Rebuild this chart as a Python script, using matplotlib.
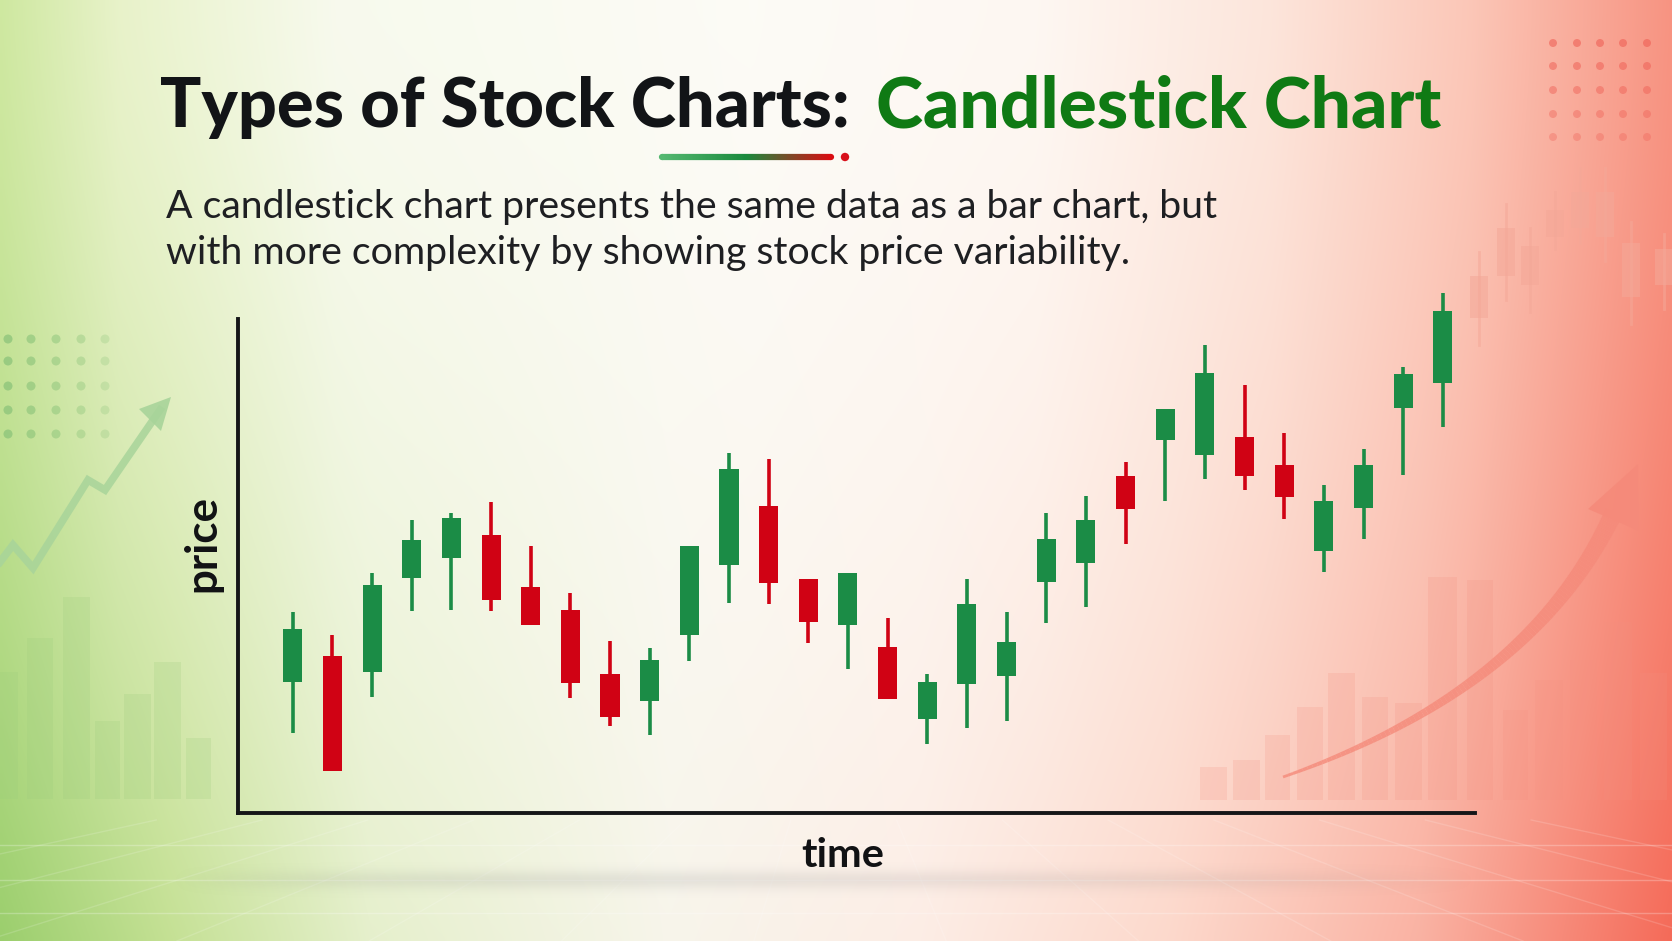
import numpy as np
import matplotlib
matplotlib.use("Agg")
import matplotlib.pyplot as plt
from matplotlib.collections import LineCollection
from matplotlib.patches import Polygon, Circle

# ---------------- data (candles) ----------------
opens  = [26.3, 31.5, 28.3, 47.1, 51.1, 55.7, 45.2, 40.7, 27.9, 22.5,
          35.6, 49.7, 61.5, 46.9, 37.7, 33.2, 18.9, 25.9, 27.5, 46.2,
          50.0, 67.4, 74.7, 71.7, 75.3, 69.6, 52.4, 61.0, 81.0, 86.1]
highs  = [40.3, 35.6, 48.1, 58.6, 60.0, 62.3, 53.5, 44.1, 34.5, 33.1,
          53.5, 72.1, 70.9, 46.9, 48.1, 39.1, 27.9, 46.9, 40.3, 60.1,
          63.5, 70.2, 80.9, 93.6, 85.6, 76.1, 65.6, 72.9, 89.2, 104.1]
lows   = [16.0, 8.5, 23.3, 40.5, 40.6, 40.5, 37.6, 23.1, 17.5, 15.7,
          30.5, 42.0, 41.8, 34.1, 28.8, 22.8, 13.8, 17.1, 18.4, 38.1,
          41.3, 53.9, 62.4, 66.9, 64.7, 58.9, 48.2, 54.8, 67.7, 77.2]
closes = [36.8, 8.5, 45.6, 54.6, 59.1, 42.7, 37.6, 26.0, 19.3, 30.7,
          53.5, 68.9, 46.0, 38.2, 48.1, 22.8, 26.3, 41.9, 34.2, 54.8,
          58.7, 60.9, 80.9, 88.1, 67.5, 63.2, 62.5, 69.6, 87.9, 100.5]

title_left = "Types of Stock Charts:"
title_right = "Candlestick Chart"
subtitle_lines = ["A candlestick chart presents the same data as a bar chart, but",
                  "with more complexity by showing stock price variability."]
xlabel = "time"
ylabel = "price"

# ---------------- decoration data (background) ----------------
left_bar_x = [0, 27, 63, 95, 124, 154, 186]
left_bar_w = [18, 26, 27, 25, 27, 27, 25]
left_bar_top = [672, 638, 597, 721, 694, 662, 738]
right_bar_x = [1200, 1233, 1265, 1297, 1328, 1362, 1395, 1428, 1467, 1503, 1535, 1570, 1604, 1640]
right_bar_w = [27, 27, 25, 26, 27, 26, 27, 29, 26, 25, 28, 27, 28, 27]
right_bar_top = [767, 760, 735, 707, 673, 697, 703, 577, 580, 710, 680, 660, 622, 673]
bg_c_x = [1479, 1506, 1530, 1555, 1580, 1605, 1631, 1664]
bg_c_body = [(276, 318), (228, 276), (246, 285), (210, 237), (192, 228), (192, 237), (243, 297), (249, 285)]
bg_c_wick = [(252, 345), (204, 300), (228, 312), (192, 249), (168, 243), (168, 261), (222, 324), (234, 309)]
left_zig_x = [0, 13, 33, 88, 105, 160]
left_zig_y = [562, 545, 568, 480, 490, 410]

GREEN = "#1b8c46"
RED = "#d00214"

W, H = 1672, 941
fig = plt.figure(figsize=(W / 100, H / 100), dpi=100)

# ---------------- background ----------------
bg = fig.add_axes([0, 0, 1, 1], zorder=0)
bg.set_xlim(0, W)
bg.set_ylim(H, 0)
bg.axis("off")

nx, ny = 400, 200
xs = np.linspace(0, 1, nx)
top_stops = [(0.0, (0.81, 0.91, 0.63)), (0.07, (0.91, 0.95, 0.79)), (0.2, (0.97, 0.98, 0.93)),
             (0.45, (0.99, 0.985, 0.965)), (0.62, (0.995, 0.97, 0.95)), (0.76, (0.99, 0.90, 0.86)),
             (0.88, (0.985, 0.78, 0.72)), (1.0, (0.97, 0.58, 0.51))]
bot_stops = [(0.0, (0.61, 0.81, 0.43)), (0.1, (0.77, 0.88, 0.58)), (0.22, (0.90, 0.94, 0.80)),
             (0.4, (0.97, 0.96, 0.92)), (0.55, (0.99, 0.93, 0.90)), (0.7, (0.99, 0.85, 0.80)),
             (0.85, (0.98, 0.70, 0.64)), (1.0, (0.96, 0.42, 0.35))]

def profile(stops):
    pos = [s[0] for s in stops]
    return np.stack([np.interp(xs, pos, [s[1][c] for s in stops]) for c in range(3)], axis=-1)

topc = profile(top_stops)
botc = profile(bot_stops)
t = np.linspace(0, 1, ny)[:, None, None] ** 1.5
img = topc[None] * (1 - t) + botc[None] * t
bg.imshow(img, extent=[0, W, H, 0], aspect="auto", interpolation="bilinear", zorder=0)

# faint floor grid
for yy in [845, 880, 913]:
    bg.plot([0, W], [yy, yy], color="white", lw=1, alpha=0.25, zorder=1)
for xx in np.linspace(-400, 2100, 14):
    bg.plot([W / 2 + (xx - W / 2) * 0.55, xx], [820, H], color="white", lw=1, alpha=0.15, zorder=1)

# left faint bars
for x0, w, top in zip(left_bar_x, left_bar_w, left_bar_top):
    bg.add_patch(plt.Rectangle((x0, top), w, 799 - top, color="#9ccc7c", alpha=0.22, lw=0, zorder=1))
# right faint bars
for x0, w, top in zip(right_bar_x, right_bar_w, right_bar_top):
    bg.add_patch(plt.Rectangle((x0, top), w, 800 - top, color="#f39080", alpha=0.2, lw=0, zorder=1))
# right faint candles
for xc, (b0, b1), (w0, w1) in zip(bg_c_x, bg_c_body, bg_c_wick):
    bg.plot([xc, xc], [w0, w1], color="#f4a898", lw=2, alpha=0.55, zorder=1)
    bg.add_patch(plt.Rectangle((xc - 9, b0), 18, b1 - b0, color="#f4a898", alpha=0.55, lw=0, zorder=1))

# dot grids
for i, dx in enumerate([8, 31, 56, 81, 105]):
    for dy in [339, 361, 386, 410, 434]:
        bg.add_patch(Circle((dx, dy), 4.5, color="#8cc47a", alpha=0.75 - 0.12 * i, lw=0, zorder=2))
for i, dx in enumerate([1553, 1577, 1600, 1623, 1647]):
    for j, dy in enumerate([43, 66, 90, 114, 137]):
        bg.add_patch(Circle((dx, dy), 4.0, color="#ee5a50", alpha=0.55 - 0.06 * j, lw=0, zorder=2))

# left zigzag arrow
bg.plot(left_zig_x, left_zig_y, color="#a8d49a", lw=5.5, alpha=0.85, solid_joinstyle="miter", zorder=2)
bg.add_patch(Polygon([(171, 397), (139, 409), (161, 431)], closed=True, color="#a8d49a", alpha=0.9, lw=0, zorder=2))

# right curved arrow
tt = np.linspace(0, 1, 100)
P0, P1, P2 = np.array([1283, 777]), np.array([1532, 690]), np.array([1614, 512])
pts = (1 - tt)[:, None] ** 2 * P0 + 2 * ((1 - tt) * tt)[:, None] * P1 + (tt ** 2)[:, None] * P2
segs = np.stack([pts[:-1], pts[1:]], axis=1)
lc = LineCollection(segs, linewidths=np.linspace(2, 13, len(segs)), colors="#f58a7a", alpha=0.8, zorder=2,
                    capstyle="butt")
bg.add_collection(lc)
bg.add_patch(Polygon([(1638, 464), (1588, 509), (1639, 531)], closed=True, color="#f58a7a", alpha=0.88, lw=0, zorder=2))

# shadow under chart
sx = np.linspace(-1, 1, 300)
sy = np.linspace(-1, 1, 40)
shadow = np.exp(-(sy[:, None] ** 2) * 4) * np.clip(1 - sx[None, :] ** 4, 0, 1) * (1 - 0.4 * (sx[None, :] + 1) / 2)
rgba = np.zeros((40, 300, 4))
rgba[..., :3] = 0.45
rgba[..., 3] = shadow * 0.16
bg.imshow(rgba, extent=[170, 1480, 900, 860], aspect="auto", interpolation="bilinear", zorder=1)

# ---------------- texts ----------------
renderer = fig.canvas.get_renderer()

def fit(txt, target, horizontal=True):
    bb = txt.get_window_extent(renderer=renderer)
    cur = bb.width if horizontal else bb.height
    txt.set_fontsize(txt.get_fontsize() * target / cur)

TITLE_FONT = ["Lato", "DejaVu Sans"]
t1 = bg.text(160, 127, title_left, fontsize=50, fontweight="black", family=TITLE_FONT,
             color="#121417", ha="left", va="baseline", zorder=5)
fit(t1, 690)
t2 = bg.text(876, 127, title_right, fontsize=t1.get_fontsize(), fontweight="black", family=TITLE_FONT,
             color="#0f7a14", ha="left", va="baseline", zorder=5)
fit(t2, 566)

# underline gradient bar
bar_x = np.linspace(662, 831, 120)
bar_cols = []
for f in np.linspace(0, 1, 119):
    if f < 0.5:
        c = np.array([0.33, 0.72, 0.44]) * (1 - f / 0.5) + np.array([0.10, 0.54, 0.24]) * (f / 0.5)
    else:
        g = (f - 0.5) / 0.5
        c = np.array([0.10, 0.54, 0.24]) * (1 - g) + np.array([0.85, 0.05, 0.07]) * g
    bar_cols.append(c)
bsegs = [[(bar_x[i], 157), (bar_x[i + 1], 157)] for i in range(119)]
bg.add_collection(LineCollection(bsegs, colors=bar_cols, linewidths=4.5, capstyle="butt", zorder=5))
bg.add_patch(Circle((662, 157), 3.1, color=bar_cols[0], lw=0, zorder=5))
bg.add_patch(Circle((831, 157), 3.1, color=bar_cols[-1], lw=0, zorder=5))
bg.add_patch(Circle((845, 157), 4.2, color="#d8101a", lw=0, zorder=5))

SUB_FONT = ["Lato", "DejaVu Sans"]
s1 = bg.text(166, 218, subtitle_lines[0], fontsize=24, family=SUB_FONT, color="#1e1f22",
             ha="left", va="baseline", zorder=5)
fit(s1, 1053)
s2 = bg.text(166, 264, subtitle_lines[1], fontsize=s1.get_fontsize(), family=SUB_FONT, color="#1e1f22",
             ha="left", va="baseline", zorder=5)

tx = bg.text(843, 867, xlabel, fontsize=30, fontweight="bold", family=TITLE_FONT, color="#111214",
             ha="center", va="baseline", zorder=5)
fit(tx, 83)
ty = bg.text(202, 543, ylabel, fontsize=30, fontweight="bold", family=TITLE_FONT, color="#111214",
             ha="center", va="center", rotation=90, zorder=5)
fit(ty, 97, horizontal=False)

# ---------------- candlestick axes ----------------
x_left_px, x_right_px = 238, 1475
y_bot_px, y_top_px = 813, 319
ax = fig.add_axes([x_left_px / W, (H - y_bot_px) / H, (x_right_px - x_left_px) / W,
                   (y_bot_px - y_top_px) / H], zorder=3)
ax.patch.set_alpha(0)
n = len(opens)
idx = np.arange(n)
ax.set_xlim(-1.38, 29.81)
ax.set_ylim(0, 98.8)

o = np.array(opens); c = np.array(closes); hi = np.array(highs); lo = np.array(lows)
cols = [GREEN if cc >= oo else RED for oo, cc in zip(o, c)]
ax.vlines(idx, lo, hi, colors=cols, linewidth=2.6, clip_on=False, zorder=3)
ax.bar(idx, np.abs(c - o), bottom=np.minimum(o, c), width=0.48, color=cols, linewidth=0,
       clip_on=False, zorder=4)

for s in ["top", "right"]:
    ax.spines[s].set_visible(False)
for s in ["left", "bottom"]:
    ax.spines[s].set_linewidth(2.8)
    ax.spines[s].set_color("#151618")
    ax.spines[s].set_capstyle("projecting")
ax.set_xticks([])
ax.set_yticks([])

fig.savefig("out.png", dpi=100)
